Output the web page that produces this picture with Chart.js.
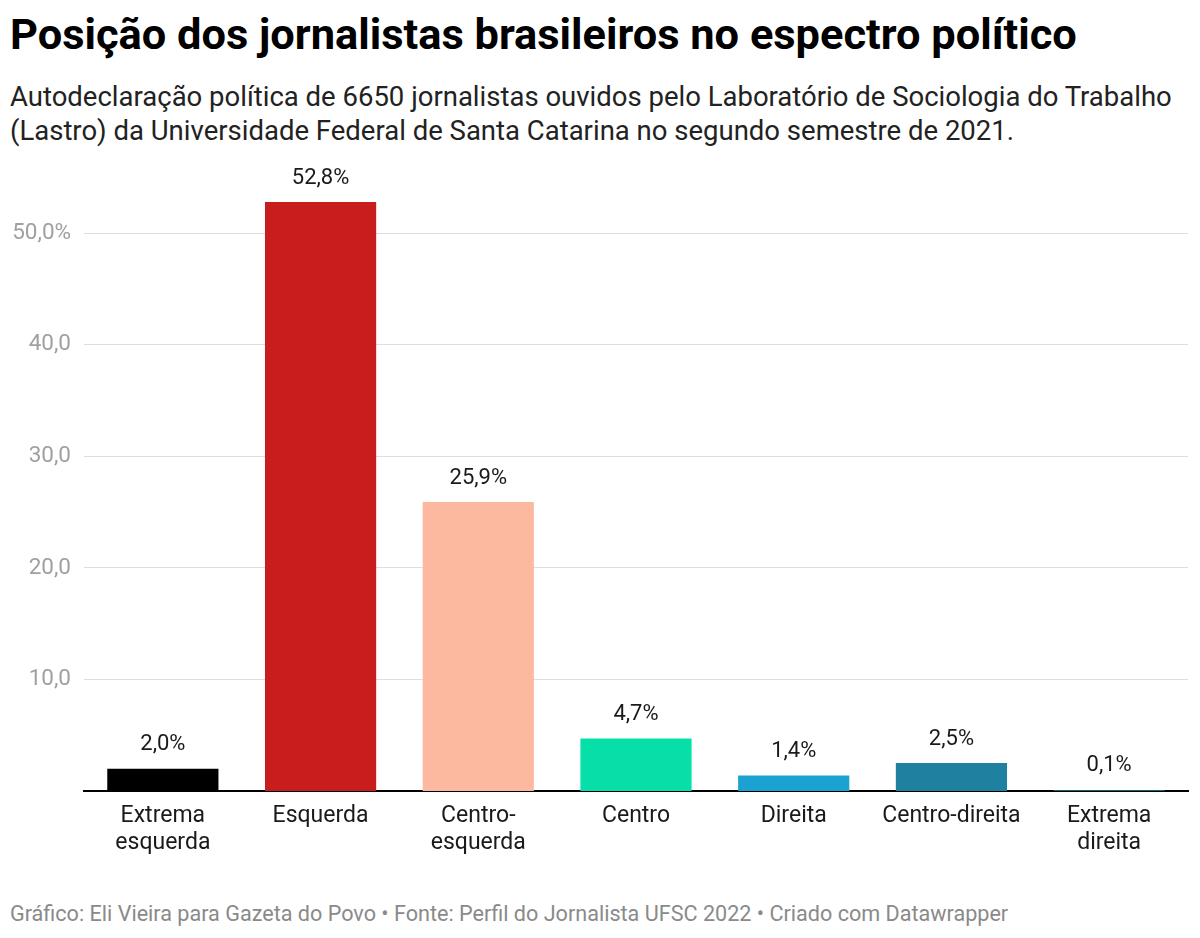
<!DOCTYPE html>
<html>
<head>
<meta charset="utf-8">
<script src="https://cdn.jsdelivr.net/npm/chart.js@4/dist/chart.umd.min.js"></script>
<style>
  body { margin: 0; width: 1200px; height: 938px; background: #fff; font-family: Roboto, sans-serif; position: relative; overflow: hidden; }
  #title { position: absolute; left: 10px; top: 13px; font-size: 43.4px; line-height: 44px; font-weight: 700; color: #000; white-space: nowrap; }
  #subtitle { position: absolute; left: 10px; top: 80px; font-size: 27.5px; line-height: 34px; color: #222; white-space: nowrap; }
  #footer { position: absolute; left: 10px; top: 903px; font-size: 21.6px; line-height: 21px; color: #8a8a8a; white-space: nowrap; }
  #wrap { position: absolute; left: 0; top: 151px; width: 1200px; height: 729px; }
</style>
</head>
<body>
<div id="title">Posição dos jornalistas brasileiros no espectro político</div>
<div id="subtitle">Autodeclaração política de 6650 jornalistas ouvidos pelo Laboratório de Sociologia do Trabalho<br>(Lastro) da Universidade Federal de Santa Catarina no segundo semestre de 2021.</div>
<div id="wrap"><canvas id="chart"></canvas></div>
<div id="footer">Gráfico: Eli Vieira para Gazeta do Povo • Fonte: Perfil do Jornalista UFSC 2022 • Criado com Datawrapper</div>
<script>
  // Chart data
  const categories = [
    ['Extrema', 'esquerda'], 'Esquerda', ['Centro-', 'esquerda'], 'Centro',
    'Direita', 'Centro-direita', ['Extrema', 'direita']
  ];
  const values = [2.0, 52.8, 25.9, 4.7, 1.4, 2.5, 0.1];
  const barColors = ['#000000', '#c71e1d', '#fcb99f', '#06dfa7', '#1ca2d1', '#1f80a0', '#15607a'];
  const yTicks = [10, 20, 30, 40, 50];

  const fmt = v => v.toFixed(1).replace('.', ',');

  // Draw the value above each bar
  const valueLabels = {
    id: 'valueLabels',
    afterDraw(chart) {
      const ctx = chart.ctx;
      const meta = chart.getDatasetMeta(0);
      ctx.save();
      ctx.font = '22px Roboto';
      ctx.fillStyle = '#1a1a1a';
      ctx.textAlign = 'center';
      ctx.textBaseline = 'middle';
      meta.data.forEach((bar, i) => {
        ctx.fillText(fmt(values[i]) + '%', bar.x, bar.y - 24);
      });
      ctx.restore();
    }
  };

  new Chart(document.getElementById('chart'), {
    type: 'bar',
    data: {
      labels: categories,
      datasets: [{
        data: values,
        backgroundColor: barColors,
        borderWidth: 0,
        barPercentage: 0.705,
        categoryPercentage: 1
      }]
    },
    options: {
      responsive: true,
      maintainAspectRatio: false,
      animation: false,
      layout: { padding: { top: 0, right: 12, bottom: 0, left: 0 } },
      plugins: { legend: { display: false }, tooltip: { enabled: false } },
      scales: {
        x: {
          z: 1,
          grid: { display: false, drawTicks: false },
          border: { color: '#000', width: 2 },
          ticks: {
            color: '#1a1a1a',
            font: { family: 'Roboto', size: 23, lineHeight: 1.17 },
            padding: 12,
            maxRotation: 0,
            autoSkip: false
          },
          afterFit(scale) { scale.height = 89; }
        },
        y: {
          min: 0,
          max: 55,
          grid: { color: '#dedede', lineWidth: 1, drawTicks: false },
          border: { display: false },
          afterBuildTicks(scale) { scale.ticks = yTicks.map(v => ({ value: v })); },
          afterFit(scale) { scale.width = 84; },
          ticks: {
            color: '#a0a0a0',
            font: { family: 'Roboto', size: 22.5 },
            padding: 13,
            callback: v => v === 50 ? fmt(v) + '%' : fmt(v)
          }
        }
      }
    },
    plugins: [valueLabels]
  });
</script>
</body>
</html>
